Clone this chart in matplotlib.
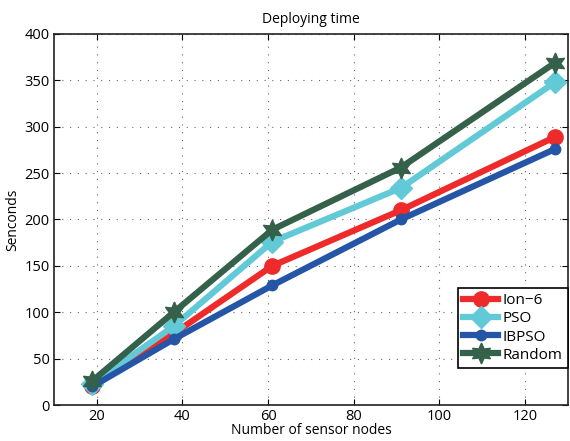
import matplotlib
matplotlib.use("Agg")
import matplotlib.pyplot as plt

nodes = [19, 38, 61, 91, 127]
ion6 = [20, 77, 150, 210, 289]
pso = [23, 85, 176, 234, 348]
ibpso = [20, 71, 129, 200, 276]
random_ = [26, 100, 189, 256, 369]

xticks = [20, 40, 60, 80, 100, 120]
yticks = [0, 50, 100, 150, 200, 250, 300, 350, 400]

plt.rcParams['font.family'] = ['Open Sans', 'DejaVu Sans']

fig = plt.figure(figsize=(5.7, 4.41), dpi=100)
ax = fig.add_axes([0.0944, 0.0816, 0.902, 0.8414])

lw = 4.5
ax.plot(nodes, ion6, color='#EE2A2A', lw=lw, marker='o', ms=11, label='Ion\u22126', zorder=3)
ax.plot(nodes, pso, color='#62C9D6', lw=lw, marker='D', ms=11, label='PSO', zorder=3)
ax.plot(nodes, ibpso, color='#2455A6', lw=lw, marker='o', ms=7.5, label='IBPSO', zorder=4)
ax.plot(nodes, random_, color='#35614A', lw=lw, marker=(6, 1, 0), ms=15, label='Random', zorder=5)

ax.set_xlim(10, 130)
ax.set_ylim(0, 400)
ax.set_xticks(xticks)
ax.set_yticks(yticks)
ax.grid(True, linestyle=(0, (1, 6)), color='#666666', linewidth=0.8)
ax.tick_params(direction='in', labelsize=10.5, length=4, top=True, right=True, pad=3)
for s in ax.spines.values():
    s.set_linewidth(1.2)
    s.set_color('#222222')

ax.set_title('Deploying time', fontsize=10, pad=8)
ax.set_xlabel('Number of sensor nodes', fontsize=10, labelpad=-1)
ax.set_ylabel('Senconds', fontsize=10, labelpad=3)

leg = ax.legend(loc='lower right', fontsize=11, frameon=True, fancybox=False,
                edgecolor='black', framealpha=1, handlelength=2.3,
                borderpad=0.35, labelspacing=0.2, handletextpad=0.3,
                borderaxespad=0, bbox_to_anchor=(1.0, 0.1))
leg.get_frame().set_linewidth(1.2)

fig.savefig('out.png', dpi=100)
